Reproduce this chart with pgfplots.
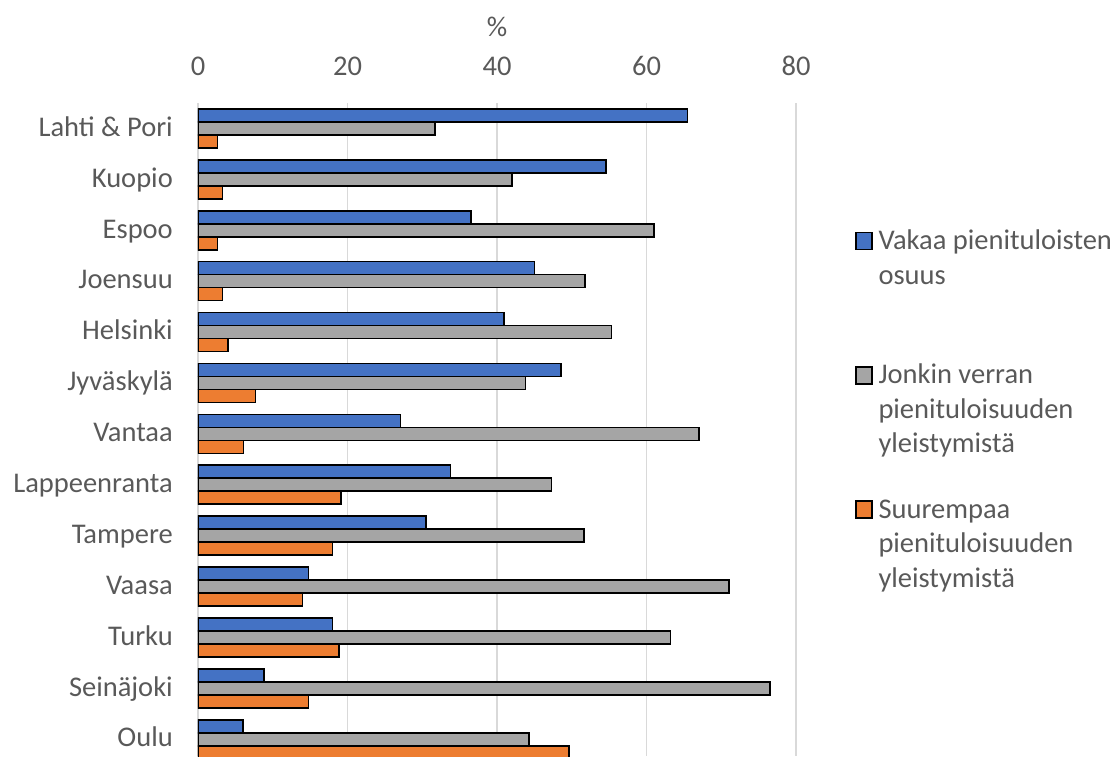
\documentclass[border=0pt]{standalone}
\usepackage{fontspec}
\setmainfont{Carlito}
\usepackage{pgfplots}
\pgfplotsset{compat=1.18}

\definecolor{seriesblue}{HTML}{4472C4}
\definecolor{seriesgray}{HTML}{A5A5A5}
\definecolor{seriesorange}{HTML}{ED7D31}
\definecolor{labeltext}{HTML}{595959}
\definecolor{gridline}{HTML}{D9D9D9}

\newcommand\chartfont{\fontsize{28.5pt}{34.5pt}\selectfont}

% square legend key, drawn from the baseline up to cap height
\pgfplotsset{square key/.style={legend image code/.code={%
  \draw[##1, line width=1.5pt] (0pt,0pt) rectangle (16pt,17pt);}}}

% multi-line legend text; every entry gets the same row height
\newcommand\entry[1]{\parbox[t]{280pt}{\raggedright #1}}

\begin{document}
\begin{tikzpicture}
\begin{axis}[
  at={(0pt,0pt)}, anchor=north west,
  scale only axis, width=598pt, height=653pt,
  xmin=0, xmax=80, ymin=-0.5, ymax=12.33,
  y dir=reverse,
  xtick={0,20,40,60,80},
  ytick={0,...,12},
  yticklabels={Lahti \& Pori, Kuopio, Espoo, Joensuu, Helsinki, Jyväskylä,
    Vantaa, Lappeenranta, Tampere, Vaasa, Turku, Seinäjoki, Oulu},
  xticklabel pos=upper,
  axis line style={draw=none},
  major tick length=0pt,
  tick style={draw=none},
  xmajorgrids, ymajorgrids=false,
  major grid style={color=gridline, line width=1.5pt},
  /pgf/number format/assume math mode=true,
  tick label style={font=\chartfont, text=labeltext, inner sep=0pt},
  xticklabel style={anchor=base, yshift=28pt},
  yticklabel style={anchor=base east, xshift=-25pt, yshift=-7.75pt},
  xlabel={\%},
  xlabel style={at={(axis description cs:0.5,1)}, anchor=base, yshift=67pt,
    font=\chartfont, text=labeltext, inner sep=0pt},
  xbar, bar width=0.2555,
  legend cell align=left,
  legend style={at={(axis description cs:1.09866,0.8093)}, anchor=north west,
    draw=none, fill=none, inner sep=0pt, outer sep=0pt,
    row sep=111.55pt, column sep=6pt, font=\chartfont, text=labeltext,
    cells={anchor=base west},
    nodes={inner sep=0pt, text height=22pt, text depth=0pt}},
]
\addplot[bar shift=-0.2555, fill=seriesblue, draw=black, line width=1.6pt, square key]
  coordinates {(65.5,0) (54.6,1) (36.5,2) (45.0,3) (40.9,4) (48.6,5) (27.1,6)
               (33.8,7) (30.5,8) (14.8,9) (18.0,10) (8.8,11) (6.0,12)};
\addlegendentry{\entry{Vakaa pienituloisten\\osuus}}
\addplot[bar shift=0, fill=seriesgray, draw=black, line width=1.6pt, square key]
  coordinates {(31.7,0) (42.0,1) (61.0,2) (51.8,3) (55.3,4) (43.8,5) (67.0,6)
               (47.3,7) (51.6,8) (71.0,9) (63.2,10) (76.5,11) (44.3,12)};
\addlegendentry{\entry{Jonkin verran\\pienituloisuuden\\yleistymistä}}
\addplot[bar shift=0.2555, fill=seriesorange, draw=black, line width=1.6pt, square key]
  coordinates {(2.6,0) (3.3,1) (2.6,2) (3.3,3) (4.0,4) (7.7,5) (6.1,6)
               (19.1,7) (18.0,8) (14.0,9) (18.9,10) (14.8,11) (49.6,12)};
\addlegendentry{\entry{Suurempaa\\pienituloisuuden\\yleistymistä}}
\end{axis}
\pgfresetboundingbox
\useasboundingbox (-198pt,103pt) rectangle (922pt,-653pt);
\end{tikzpicture}
\end{document}
